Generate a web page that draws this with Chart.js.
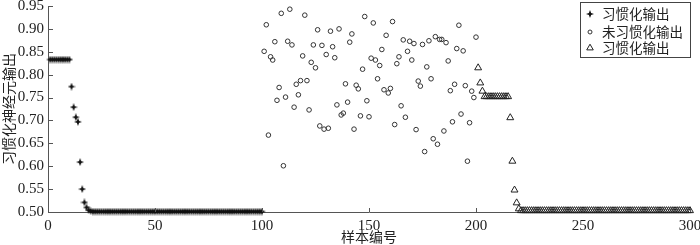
<!DOCTYPE html>
<html>
<head>
<meta charset="utf-8">
<script src="https://cdn.jsdelivr.net/npm/chart.js@4.4.0/dist/chart.umd.min.js"></script>
<style>
  body { margin: 0; background: #fff; }
  #wrap { width: 700px; height: 245px; }
</style>
</head>
<body>
<div id="wrap"><canvas id="chart"></canvas></div>
<script>
// sample numbers: 1-100 habituated, 101-200 non-habituated, 201-300 habituated
const habitAValues = [
  0.833, 0.833, 0.833, 0.833, 0.833, 0.833, 0.833, 0.833, 0.833, 0.833,
  0.774, 0.729, 0.707, 0.697, 0.609, 0.550, 0.521, 0.510, 0.504, 0.502,
  0.501, 0.501, 0.501, 0.501, 0.501, 0.501, 0.501, 0.501, 0.501, 0.501,
  0.501, 0.501, 0.501, 0.501, 0.501, 0.501, 0.501, 0.501, 0.501, 0.501,
  0.501, 0.501, 0.501, 0.501, 0.501, 0.501, 0.501, 0.501, 0.501, 0.501,
  0.501, 0.501, 0.501, 0.501, 0.501, 0.501, 0.501, 0.501, 0.501, 0.501,
  0.501, 0.501, 0.501, 0.501, 0.501, 0.501, 0.501, 0.501, 0.501, 0.501,
  0.501, 0.501, 0.501, 0.501, 0.501, 0.501, 0.501, 0.501, 0.501, 0.501,
  0.501, 0.501, 0.501, 0.501, 0.501, 0.501, 0.501, 0.501, 0.501, 0.501,
  0.501, 0.501, 0.501, 0.501, 0.501, 0.501, 0.501, 0.501, 0.501, 0.501
];
const novelValues = [
  0.851, 0.909, 0.668, 0.839, 0.832, 0.872, 0.744, 0.772, 0.934, 0.601,
  0.751, 0.873, 0.943, 0.865, 0.729, 0.779, 0.756, 0.787, 0.841, 0.930,
  0.787, 0.723, 0.827, 0.865, 0.815, 0.898, 0.688, 0.864, 0.681, 0.844,
  0.683, 0.895, 0.861, 0.837, 0.734, 0.900, 0.712, 0.716, 0.780, 0.740,
  0.871, 0.889, 0.681, 0.777, 0.769, 0.710, 0.812, 0.927, 0.743, 0.708,
  0.836, 0.913, 0.832, 0.791, 0.820, 0.855, 0.767, 0.886, 0.760, 0.770,
  0.916, 0.691, 0.824, 0.839, 0.732, 0.876, 0.707, 0.851, 0.873, 0.832,
  0.868, 0.680, 0.786, 0.775, 0.866, 0.632, 0.817, 0.874, 0.791, 0.660,
  0.883, 0.648, 0.877, 0.877, 0.677, 0.870, 0.830, 0.765, 0.697, 0.779,
  0.857, 0.908, 0.714, 0.852, 0.776, 0.611, 0.695, 0.764, 0.750, 0.882
];
const habitBValues = [
  0.815, 0.782, 0.764, 0.752, 0.752, 0.752, 0.752, 0.752, 0.752, 0.752,
  0.752, 0.752, 0.752, 0.752, 0.752, 0.706, 0.611, 0.548, 0.520, 0.507,
  0.503, 0.503, 0.503, 0.503, 0.503, 0.503, 0.503, 0.503, 0.503, 0.503,
  0.503, 0.503, 0.503, 0.503, 0.503, 0.503, 0.503, 0.503, 0.503, 0.503,
  0.503, 0.503, 0.503, 0.503, 0.503, 0.503, 0.503, 0.503, 0.503, 0.503,
  0.503, 0.503, 0.503, 0.503, 0.503, 0.503, 0.503, 0.503, 0.503, 0.503,
  0.503, 0.503, 0.503, 0.503, 0.503, 0.503, 0.503, 0.503, 0.503, 0.503,
  0.503, 0.503, 0.503, 0.503, 0.503, 0.503, 0.503, 0.503, 0.503, 0.503,
  0.503, 0.503, 0.503, 0.503, 0.503, 0.503, 0.503, 0.503, 0.503, 0.503,
  0.503, 0.503, 0.503, 0.503, 0.503, 0.503, 0.503, 0.503, 0.503, 0.503
];
const seriesLabels = ['习惯化输出', '未习惯化输出', '习惯化输出'];
const xTitle = '样本编号';
const yTitle = '习惯化神经元输出';

const fontFamily = '"Liberation Serif", "Noto Sans CJK SC", serif';

// pair each value with its sample number, starting at the given index
function toPoints(values, start) {
  return values.map((v, i) => ({ x: start + i, y: v }));
}

// small filled four-point star marker
function makeStar(size, color) {
  const c = document.createElement('canvas');
  c.width = size; c.height = size;
  const g = c.getContext('2d');
  const m = size / 2, k = size * 0.36, q = size * 0.64;
  g.fillStyle = color;
  g.beginPath();
  g.moveTo(m, 0); g.lineTo(q, k); g.lineTo(size, m); g.lineTo(q, q);
  g.lineTo(m, size); g.lineTo(k, q); g.lineTo(0, m); g.lineTo(k, k);
  g.closePath();
  g.fill();
  return c;
}
const starMark = makeStar(8, '#111');

// inward tick marks, like the original plot
const innerTicks = {
  id: 'innerTicks',
  afterDraw(chart) {
    const { ctx, chartArea, scales } = chart;
    ctx.save();
    ctx.strokeStyle = '#555';
    ctx.lineWidth = 1;
    ctx.beginPath();
    scales.x.ticks.forEach((t, i) => {
      const px = Math.round(scales.x.getPixelForTick(i)) + 0.5;
      ctx.moveTo(px, chartArea.bottom);
      ctx.lineTo(px, chartArea.bottom - 4);
    });
    scales.y.ticks.forEach((t, i) => {
      const py = Math.round(scales.y.getPixelForTick(i)) + 0.5;
      ctx.moveTo(chartArea.left, py);
      ctx.lineTo(chartArea.left + 5, py);
    });
    ctx.stroke();
    ctx.restore();
  }
};

// boxed legend in the upper right corner
const boxLegend = {
  id: 'boxLegend',
  afterDraw(chart) {
    const { ctx, chartArea } = chart;
    const w = 110, h = 55, top = 2;
    const left = chartArea.right - w;
    ctx.save();
    ctx.fillStyle = '#fff';
    ctx.fillRect(left, top, w, h);
    ctx.strokeStyle = '#444';
    ctx.lineWidth = 1;
    ctx.strokeRect(left + 0.5, top + 0.5, w, h);
    ctx.font = '13.5px ' + fontFamily;
    ctx.textBaseline = 'middle';
    const rows = [13, 31, 47];
    chart.data.datasets.forEach((ds, i) => {
      const cy = top + rows[i] - 1;
      ctx.fillStyle = ds.pointBackgroundColor;
      ctx.strokeStyle = ds.pointBorderColor;
      ctx.lineWidth = ds.pointBorderWidth;
      Chart.helpers.drawPoint(ctx, {
        pointStyle: ds.pointStyle,
        radius: ds.legendRadius,
        rotation: 0,
        borderWidth: ds.pointBorderWidth
      }, left + 10, cy);
      ctx.fillStyle = '#222';
      ctx.fillText(ds.label, left + 22, cy + 1);
    });
    ctx.restore();
  }
};

new Chart(document.getElementById('chart'), {
  type: 'scatter',
  data: {
    datasets: [
      {
        label: seriesLabels[0],
        data: toPoints(habitAValues, 1),
        pointStyle: starMark,
        pointRadius: 4,
        legendRadius: 3,
        pointBackgroundColor: '#111',
        pointBorderColor: '#111',
        pointBorderWidth: 1,
        clip: false
      },
      {
        label: seriesLabels[1],
        data: toPoints(novelValues, 101),
        pointStyle: 'circle',
        pointRadius: 2.3,
        legendRadius: 2,
        pointBackgroundColor: 'rgba(255,255,255,0)',
        pointBorderColor: '#333',
        pointBorderWidth: 1,
        clip: false
      },
      {
        label: seriesLabels[2],
        data: toPoints(habitBValues, 201),
        pointStyle: 'triangle',
        pointRadius: 4,
        legendRadius: 3.8,
        pointBackgroundColor: 'rgba(255,255,255,0)',
        pointBorderColor: '#222',
        pointBorderWidth: 1,
        clip: false
      }
    ]
  },
  options: {
    responsive: true,
    maintainAspectRatio: false,
    animation: false,
    layout: { padding: { top: 6, right: 10, left: 0, bottom: 0 } },
    scales: {
      x: {
        type: 'linear',
        min: 0,
        max: 300,
        afterFit: (s) => { s.height = 33; s.paddingLeft = 0; s.paddingRight = 0; },
        border: { display: true, color: '#555', width: 1 },
        grid: { display: true, drawOnChartArea: false, drawTicks: false },
        ticks: {
          stepSize: 50,
          padding: 5,
          color: '#222',
          font: { family: fontFamily, size: 15 }
        },
        title: {
          display: true,
          text: xTitle,
          color: '#222',
          padding: { top: 0, bottom: 0 },
          font: { family: fontFamily, size: 14, lineHeight: 1 }
        }
      },
      y: {
        type: 'linear',
        min: 0.5,
        max: 0.95,
        afterFit: (s) => { s.width = 48; s.paddingTop = 0; s.paddingBottom = 0; },
        border: { display: true, color: '#555', width: 1 },
        grid: { display: true, drawOnChartArea: false, drawTicks: false },
        ticks: {
          stepSize: 0.05,
          padding: 4,
          color: '#222',
          font: { family: fontFamily, size: 15 },
          callback: (v) => v.toFixed(2)
        },
        title: {
          display: true,
          text: yTitle,
          color: '#222',
          padding: { top: 3, bottom: 0 },
          font: { family: fontFamily, size: 14, lineHeight: 1 }
        }
      }
    },
    plugins: {
      legend: { display: false },
      tooltip: { enabled: false }
    }
  },
  plugins: [innerTicks, boxLegend]
});
</script>
</body>
</html>
